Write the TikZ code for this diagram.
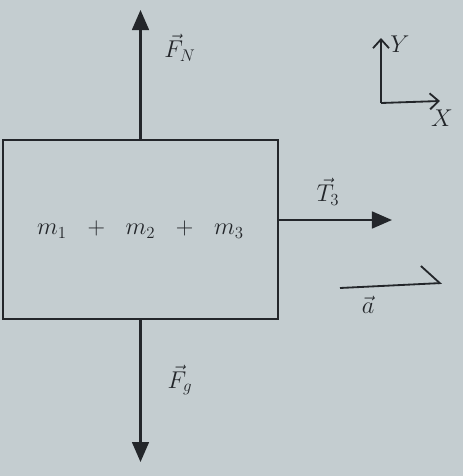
\documentclass[tikz,border=0pt]{standalone}
\usetikzlibrary{arrows.meta}
\usepackage{xcolor}
\definecolor{paper}{RGB}{196,205,208}
\definecolor{ink}{RGB}{35,38,42}
\tikzset{
  force/.style={draw=ink, line width=1.6pt, -{Triangle[length=0.5cm,width=0.42cm]}},
  axis/.style={draw=ink, line width=1.3pt, -{Straight Barb[length=0.22cm,width=0.4cm]}},
  accel/.style={draw=ink, line width=1.3pt, -{Straight Barb[left,length=0.45cm,width=0.9cm]}},
  lbl/.style={text=ink, font=\LARGE},
}

\begin{document}
\begin{tikzpicture}[x=0.025cm,y=-0.025cm]

    \fill[paper] (0,0) rectangle (463,476);
    \useasboundingbox (0,0) rectangle (463,476);

    \node[draw=ink, line width=1.2pt, minimum width=6.875cm, minimum height=4.475cm, text=ink, font=\LARGE] (Body) at (140.5,229.5) {$m_1 \hspace{0.38cm} + \hspace{0.38cm} m_2 \hspace{0.38cm} + \hspace{0.38cm} m_3$};

    \coordinate (FNtip) at (140.5,10);
    \coordinate (Fgtip) at (140.5,462);
    \coordinate (T3tip) at (392,220);
    \coordinate (aTail) at (340,288);
    \coordinate (aHead) at (442,283);

    \coordinate (O) at (381,103);
    \coordinate (Ytip) at (381,38);
    \coordinate (Xtip) at (440,101);

    \node[lbl] (FNlbl) at (180,48) {$\vec{F}_N$};
    \node[lbl] (Fglbl) at (180,380) {$\vec{F}_g$};
    \node[lbl] (T3lbl) at (328,192) {$\vec{T}_3$};
    \node[lbl] (albl) at (368,305) {$\vec{a}$};
    \node[lbl] (Ylbl) at (400,44) {$Y$};
    \node[lbl] (Xlbl) at (442,118) {$X$};

    \draw[force] (Body.north) to (FNtip);
    \draw[force] (Body.south) to (Fgtip);
    \draw[force] (Body.east |- T3tip) to (T3tip);
    \draw[accel] (aTail) to (aHead);

    \draw[axis] (O) to (Ytip);
    \draw[axis] (O) to (Xtip);

\end{tikzpicture}
\end{document}
